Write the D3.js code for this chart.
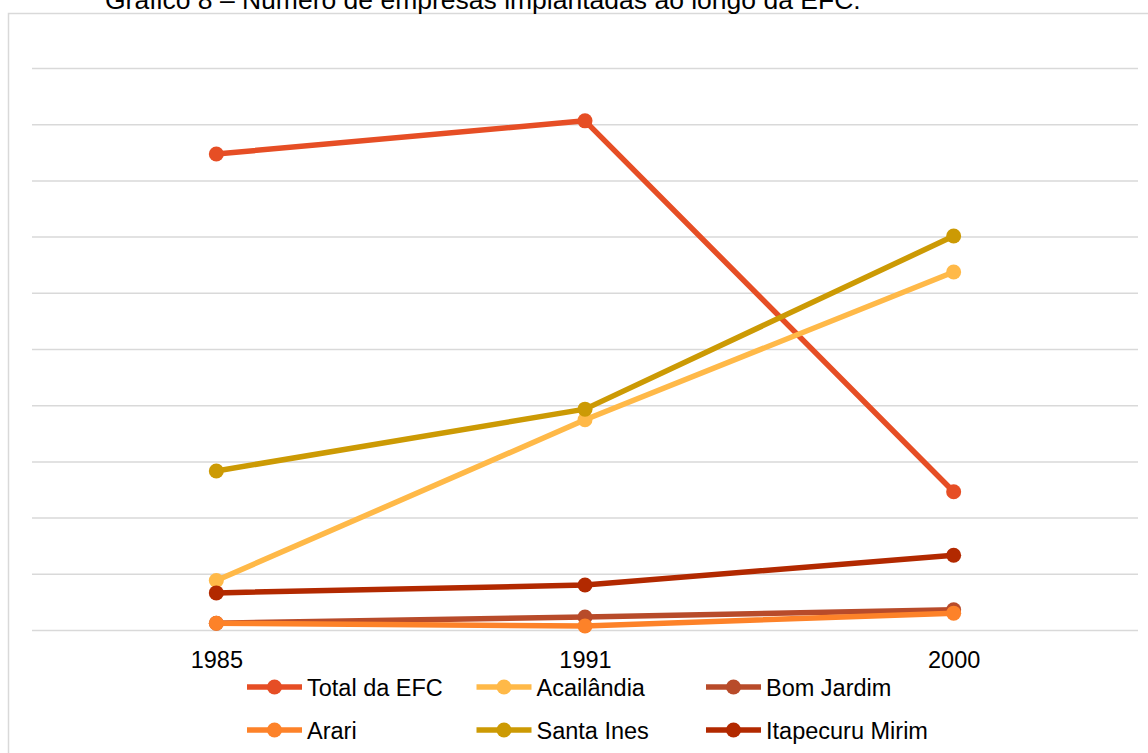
<!DOCTYPE html>
<html>
<head>
<meta charset="utf-8">
<script src="https://cdn.jsdelivr.net/npm/d3@7"></script>
<style>
  html, body { margin: 0; padding: 0; background: #fff; }
  svg { display: block; font-family: "Liberation Sans", Arial, sans-serif; }
</style>
</head>
<body>
<svg id="chart" width="1148" height="753"></svg>
<script>
// Número de empresas implantadas ao longo da EFC
const years = ["1985", "1991", "2000"];
const seriesNames = ["Total da EFC", "Acailândia", "Bom Jardim", "Arari", "Santa Ines", "Itapecuru Mirim"];
const totalEFC = [84.7, 90.6, 24.6];
const acailandia = [8.8, 37.4, 63.7];
const bomJardim = [1.2, 2.3, 3.6];
const arari = [1.2, 0.7, 3.0];
const santaInes = [28.3, 39.3, 70.1];
const itapecuru = [6.6, 8.0, 13.3];
const gridTicks = [0, 10, 20, 30, 40, 50, 60, 70, 80, 90, 100];
const colors = ["#e64e25", "#ffb948", "#b84b2a", "#fd8229", "#cc9a04", "#b22900"];

const series = [totalEFC, acailandia, bomJardim, arari, santaInes, itapecuru]
  .map((values, i) => ({ name: seriesNames[i], values, color: colors[i] }));

const svg = d3.select("#chart");
const plot = { left: 32, right: 1138, top: 68, bottom: 630 };

// outer chart frame
svg.append("rect")
  .attr("x", 8.5).attr("y", 13.5)
  .attr("width", 1200).attr("height", 800)
  .attr("fill", "#fff")
  .attr("stroke", "#d9d9d9").attr("stroke-width", 1.5);

// title (sits partly above the frame)
svg.append("text")
  .attr("x", 105).attr("y", 9)
  .attr("font-size", 26.5)
  .attr("fill", "#000")
  .text("Gráfico 8 – Número de empresas implantadas ao longo da EFC.");

const x = d3.scalePoint().domain(years).range([plot.left, plot.right]).padding(0.5);
const y = d3.scaleLinear().domain([0, 100]).range([plot.bottom, plot.top]);

// horizontal gridlines
svg.append("g")
  .attr("transform", `translate(${plot.left},0)`)
  .call(d3.axisLeft(y).tickValues(gridTicks).tickSize(-(plot.right - plot.left)).tickFormat(""))
  .call(g => g.select(".domain").remove())
  .call(g => g.selectAll(".tick line").attr("stroke", "#d9d9d9").attr("stroke-width", 1.5));

// category axis labels
svg.append("g")
  .attr("transform", `translate(0,${plot.bottom})`)
  .call(d3.axisBottom(x).tickSize(0).tickPadding(0))
  .call(g => g.select(".domain").remove())
  .call(g => g.selectAll(".tick text")
    .attr("dy", null)
    .attr("y", 37.5)
    .attr("font-size", 23.5)
    .attr("font-family", "Liberation Sans, Arial, sans-serif")
    .attr("fill", "#000"));

const line = d3.line()
  .x((d, i) => x(years[i]))
  .y(d => y(d));

const sg = svg.append("g").selectAll("g").data(series).join("g");
sg.append("path")
  .attr("d", d => line(d.values))
  .attr("fill", "none")
  .attr("stroke", d => d.color)
  .attr("stroke-width", 5.5)
  .attr("stroke-linejoin", "round");
sg.selectAll("circle")
  .data(d => d.values.map((v, i) => ({ v, i, color: d.color })))
  .join("circle")
  .attr("cx", d => x(years[d.i]))
  .attr("cy", d => y(d.v))
  .attr("r", 7.5)
  .attr("fill", d => d.color);

// legend, 3 columns x 2 rows
const legend = svg.append("g");
const colX = [247, 476.5, 706];
const rowY = [687, 730];
const items = legend.selectAll("g").data(series).join("g")
  .attr("transform", (d, i) => `translate(${colX[i % 3]},${rowY[Math.floor(i / 3)]})`);
items.append("line")
  .attr("x1", 0).attr("x2", 55)
  .attr("stroke", d => d.color).attr("stroke-width", 5.5);
items.append("circle")
  .attr("cx", 27.5).attr("r", 7.5)
  .attr("fill", d => d.color);
items.append("text")
  .attr("x", 60).attr("y", 8.5)
  .attr("font-size", 23.5)
  .attr("fill", "#000")
  .text(d => d.name);
</script>
</body>
</html>
